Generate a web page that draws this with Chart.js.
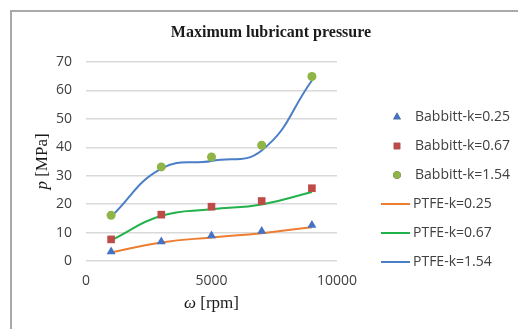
<!DOCTYPE html>
<html>
<head>
<meta charset="utf-8">
<script src="https://cdn.jsdelivr.net/npm/chart.js@4/dist/chart.umd.min.js"></script>
<style>
html,body{margin:0;padding:0;background:#fff;}
#wrap{width:518px;height:329px;position:relative;}
</style>
</head>
<body>
<div id="wrap"><canvas id="c" width="518" height="329"></canvas></div>
<script>
// ---- data ----
const speeds = [1000, 3000, 5000, 7000, 9000];
const babbitt025 = [3.3, 6.8, 8.9, 10.5, 12.6];
const babbitt067 = [7.6, 16.3, 19.1, 21.1, 25.6];
const babbitt154 = [16.1, 33.1, 36.6, 40.7, 64.9];
const ptfe025 = [3.0, 6.5, 8.3, 9.8, 11.9];
const ptfe067 = [7.3, 15.9, 18.2, 19.9, 24.3];
const ptfe154 = [15.6, 32.5, 35.2, 38.9, 63.5];
const seriesNames = ['Babbitt-k=0.25','Babbitt-k=0.67','Babbitt-k=1.54','PTFE-k=0.25','PTFE-k=0.67','PTFE-k=1.54'];
const titleText = 'Maximum lubricant pressure';
const yTitle = ['p', ' [MPa]'];
const xTitle = ['ω', ' [rpm]'];

const pts = (ys) => speeds.map((x, i) => ({x: x, y: ys[i]}));

const C = {blue:'#4472C4', red:'#BE4B48', olive:'#8FB447', orange:'#ED7D31', green:'#22B24C', lblue:'#4A7EC7'};

function marker(label, ys, style, color, r){
  return {label, data: pts(ys), showLine:false, pointStyle:style, pointRadius:r, pointHoverRadius:r,
    backgroundColor:color, borderColor:color, pointBorderWidth:0, order:0, isMarker:true};
}
function curve(label, ys, color){
  return {label, data: pts(ys), showLine:true, pointRadius:0, borderColor:color, backgroundColor:color,
    borderWidth:2, tension:0.45, fill:false, order:1, isMarker:false};
}

const datasets = [
  marker(seriesNames[0], babbitt025, 'triangle', C.blue, 5.2),
  marker(seriesNames[1], babbitt067, 'rect', C.red, 5.4),
  marker(seriesNames[2], babbitt154, 'circle', C.olive, 4.5),
  curve(seriesNames[3], ptfe025, C.orange),
  curve(seriesNames[4], ptfe067, C.green),
  curve(seriesNames[5], ptfe154, C.lblue)
];

const textColor = '#404040';
const tickFont = {family:'"Open Sans", sans-serif', size:14};

const decor = {
  id:'decor',
  beforeDraw(chart){
    const ctx = chart.ctx;
    ctx.save();
    ctx.strokeStyle = '#a9a9a9';
    ctx.lineWidth = 2;
    ctx.beginPath();
    ctx.moveTo(11, 329); ctx.lineTo(11, 11); ctx.lineTo(518, 11);
    ctx.stroke();
    ctx.restore();
  },
  afterDraw(chart){
    const ctx = chart.ctx;
    const area = chart.chartArea;
    ctx.save();
    ctx.fillStyle = '#1a1a1a';
    ctx.textBaseline = 'middle';
    ctx.textAlign = 'center';
    // chart title
    ctx.font = 'bold 16px "Liberation Serif", serif';
    ctx.fillText(titleText, 271, 33);

    ctx.textAlign = 'left';
    const it = 'italic 17px "Liberation Serif", serif';
    const nm = '17px "Liberation Serif", serif';
    function mixed(parts, cx, cy){
      ctx.font = it; const w1 = ctx.measureText(parts[0]).width;
      ctx.font = nm; const w2 = ctx.measureText(parts[1]).width;
      const x0 = cx - (w1 + w2)/2;
      ctx.font = it; ctx.fillText(parts[0], x0, cy);
      ctx.font = nm; ctx.fillText(parts[1], x0 + w1, cy);
    }
    // x axis title
    mixed(xTitle, (area.left + area.right)/2, 304);
    // y axis title
    ctx.save();
    ctx.translate(43, (area.top + area.bottom)/2);
    ctx.rotate(-Math.PI/2);
    mixed(yTitle, 0, 0);
    ctx.restore();

    // legend
    ctx.font = '14px "Open Sans", sans-serif';
    ctx.fillStyle = textColor;
    const rowY = [117, 146, 175, 204, 233, 262];
    chart.data.datasets.forEach((ds, i) => {
      const y = rowY[i];
      if (ds.isMarker) {
        Chart.helpers.drawPoint(ctx, {pointStyle: ds.pointStyle, radius: ds.pointRadius*0.85, borderWidth:0, rotation:0}, 397, y);
        ctx.fillStyle = ds.backgroundColor;
        ctx.fill();
        ctx.fillStyle = textColor;
        ctx.fillText(ds.label, 415, y);
      } else {
        ctx.strokeStyle = ds.borderColor;
        ctx.lineWidth = 2;
        ctx.beginPath(); ctx.moveTo(381, y); ctx.lineTo(410, y); ctx.stroke();
        ctx.fillStyle = textColor;
        ctx.fillText(ds.label, 413, y);
      }
    });
    ctx.restore();
  }
};

new Chart(document.getElementById('c'), {
  type:'scatter',
  data:{datasets},
  options:{
    responsive:false,
    animation:false,
    layout:{padding:{top:62, left:0, right:181, bottom:0}},
    plugins:{
      legend:{display:false},
      tooltip:{enabled:false},
      title:{display:false}
    },
    scales:{
      x:{type:'linear', min:0, max:10000,
        ticks:{stepSize:5000, color:textColor, font:tickFont, padding:12, maxRotation:0,
          callback:(v) => String(v)},
        grid:{display:false, drawTicks:false}, border:{display:false},
        afterFit(s){ s.height = 68; }},
      y:{type:'linear', min:0, max:70,
        ticks:{stepSize:10, color:textColor, font:tickFont, padding:14, callback:(v) => String(v)},
        grid:{color:'#d9d9d9', lineWidth:1.5, drawTicks:false}, border:{display:false},
        afterFit(s){ s.width = 86; }}
    }
  },
  plugins:[decor]
});
</script>
</body>
</html>
